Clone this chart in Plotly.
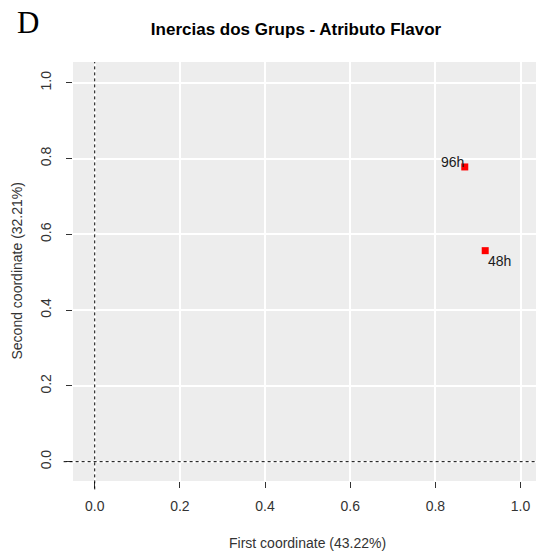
import plotly.graph_objects as go

groups = ["96h", "48h"]
first_coord = [0.869, 0.917]
second_coord = [0.778, 0.557]
tick_vals = [0.0, 0.2, 0.4, 0.6, 0.8, 1.0]
tick_text = ["0.0", "0.2", "0.4", "0.6", "0.8", "1.0"]

# page body has an 8px default margin; work in figure coordinates
OFF = 8
W, H = 544 - OFF, 557 - OFF
L, T = 73 - OFF, 62 - OFF
R = W - (541 - OFF)
B = H - (481 - OFF)
PW, PH = W - L - R, H - T - B

fig = go.Figure()
fig.add_trace(go.Scatter(
    x=first_coord, y=second_coord, mode="markers",
    marker=dict(symbol="square", size=7, color="#FF0000", line=dict(width=0)),
    hoverinfo="text", text=groups, showlegend=False,
))

label_pos = {"96h": dict(xanchor="right", xshift=1, yshift=5),
             "48h": dict(xanchor="left", xshift=1, yshift=-10)}
for g, xv, yv in zip(groups, first_coord, second_coord):
    fig.add_annotation(x=xv, y=yv, text=g, showarrow=False,
                       font=dict(family="Liberation Sans, Arial", size=14, color="#1a1a1a"),
                       yanchor="middle", **label_pos[g])

fig.add_shape(type="line", xref="x", yref="paper", x0=0, x1=0, y0=-0.02, y1=1.0,
              line=dict(color="#000", width=1, dash="3px,3px"))
fig.add_shape(type="line", xref="paper", yref="y", x0=-0.02, x1=1.0, y0=0, y1=0,
              line=dict(color="#000", width=1, dash="3px,3px"))

fig.add_annotation(xref="paper", yref="paper", x=(15 - OFF - L) / PW, y=1 + (T - (23 - OFF)) / PH,
                   text="D", showarrow=False, xanchor="left", yanchor="middle",
                   font=dict(family="Liberation Serif, Times New Roman", size=31, color="#000"))

fig.add_annotation(xref="paper", yref="paper", x=0.5, y=-((543 - OFF) - T - PH) / PH,
                   text="First coordinate (43.22%)", showarrow=False,
                   xanchor="center", yanchor="middle",
                   font=dict(family="Liberation Sans, Arial", size=14, color="#333"))
fig.add_annotation(xref="paper", yref="paper", x=-(L - (16 - OFF)) / PW, y=0.5,
                   text="Second coordinate (32.21%)", showarrow=False, textangle=-90,
                   xanchor="center", yanchor="middle",
                   font=dict(family="Liberation Sans, Arial", size=14, color="#333"))

axis_common = dict(
    showgrid=True, gridcolor="#FFFFFF", gridwidth=1.8, zeroline=False,
    ticks="outside", ticklen=6, tickcolor="#333", tickwidth=1,
    tickvals=tick_vals, ticktext=tick_text,
    tickfont=dict(family="Liberation Sans, Arial", size=14, color="#333"),
    showline=False, mirror=False, automargin=False,
)

fig.update_layout(
    width=W, height=H,
    margin=dict(l=L, r=R, t=T, b=B, autoexpand=False),
    paper_bgcolor="#FFFFFF", plot_bgcolor="#EDEDED",
    title=dict(text="<b>Inercias dos Grups - Atributo Flavor</b>", x=(296 - OFF) / W,
               xanchor="center", y=1 - (29 - OFF) / H, yanchor="middle",
               font=dict(family="Liberation Sans, Arial", size=17, color="#000")),
    xaxis=dict(range=[-0.051, 1.048], ticklabelstandoff=6, **axis_common),
    yaxis=dict(range=[-0.051, 1.055], tickangle=-90, ticklabelstandoff=9, **axis_common),
)

fig.write_html("out.html")
